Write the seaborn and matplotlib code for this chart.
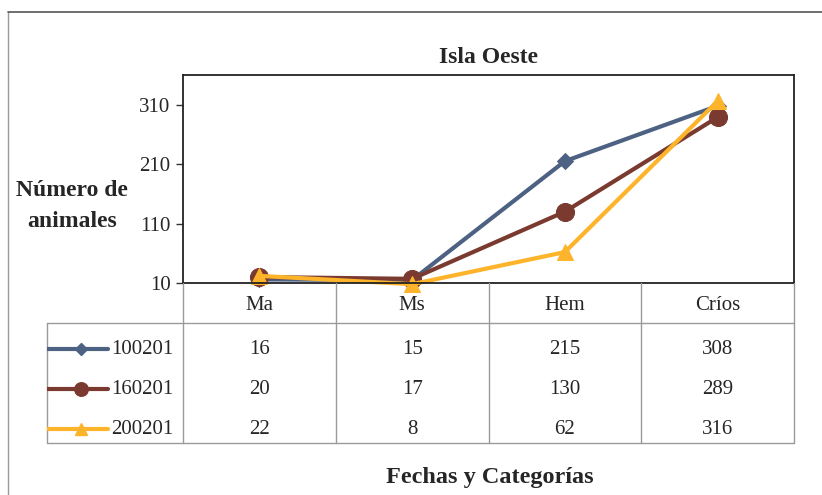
import pandas as pd
import matplotlib
matplotlib.use("Agg")
import matplotlib.pyplot as plt
from matplotlib.lines import Line2D
import seaborn as sns

# Datos del gráfico
categorias = ['Ma', 'Ms', 'Hem', 'Críos']
series = ['100201', '160201', '200201']
v100201 = [16, 15, 215, 308]
v160201 = [20, 17, 130, 289]
v200201 = [22, 8, 62, 316]
yticks = [10, 110, 210, 310]

valores = {'100201': v100201, '160201': v160201, '200201': v200201}
colores = {'100201': '#4d6283', '160201': '#7a3a30', '200201': '#fdb42a'}
marcadores = {'100201': 'D', '160201': 'o', '200201': '^'}
tam_marcador = {'100201': 8, '160201': 13, '200201': 12}

df = pd.DataFrame([
    {'categoria': c, 'serie': s, 'valor': v, 'pos': i}
    for s in series for i, (c, v) in enumerate(zip(categorias, valores[s]))
])

sns.set_theme(style="white")
plt.rcParams['font.family'] = ['Liberation Serif', 'DejaVu Serif']

W, H = 822, 495
fig = plt.figure(figsize=(W / 100, H / 100), dpi=100)

# Marco exterior (solo borde superior e izquierdo visibles)
fig.add_artist(Line2D([8 / W, 8 / W], [0, 1 - 12 / H], color='#9a9a9a', lw=1.0))
fig.add_artist(Line2D([8 / W, 1], [1 - 12 / H, 1 - 12 / H], color='#555555', lw=1.2))

# Área del gráfico
ax = fig.add_axes([183 / W, 1 - 283 / H, (794 - 183) / W, (283 - 75) / H])
for s in series:
    sub = df[df['serie'] == s]
    sns.lineplot(data=sub, x='pos', y='valor', ax=ax, color=colores[s],
                 marker=marcadores[s], markersize=tam_marcador[s],
                 markeredgecolor=colores[s], linewidth=3, sort=False, clip_on=False)

ax.set_xlim(-0.5, len(categorias) - 0.5)
ax.set_ylim(10, 360)
ax.set_yticks(yticks)
ax.set_yticklabels([str(t) for t in yticks], fontsize=15)
ax.set_xticks([])
ax.set_xlabel('')
ax.set_ylabel('')
ax.tick_params(axis='y', direction='out', length=5, width=1, left=True, color='#333333', pad=4)
for sp in ax.spines.values():
    sp.set_color('#222222')
    sp.set_linewidth(1.3)
ax.set_title('Isla Oeste', fontsize=17, fontweight='bold', pad=9)

fig.text(72 / W, 1 - 206 / H, 'Número de\nanimales', ha='center', va='center',
         fontsize=17, fontweight='bold', linespacing=1.6)
fig.text(490 / W, 1 - 478 / H, 'Fechas y Categorías', ha='center', va='center',
         fontsize=17.5, fontweight='bold')

# Tabla de datos
ancho_etiqueta = (183 - 47) / ((794 - 183) / len(categorias))
tax = fig.add_axes([47 / W, 1 - 443 / H, (794 - 47) / W, 160 / H])
x0 = -0.5 - ancho_etiqueta
x1 = len(categorias) - 0.5
tax.set_xlim(x0, x1)
tax.set_ylim(4, 0)
tax.axis('off')
gris = '#9a9a9a'
for i in range(len(categorias) + 1):
    tax.plot([i - 0.5, i - 0.5], [0, 4], color=gris, lw=1.0, clip_on=False)
tax.plot([x0, x0], [1, 4], color=gris, lw=1.0, clip_on=False)
tax.plot([x0, x1], [1, 1], color=gris, lw=1.0, clip_on=False)
tax.plot([x0, x1], [4, 4], color=gris, lw=1.0, clip_on=False)

for i, c in enumerate(categorias):
    tax.text(i, 0.55, c, ha='center', va='center', fontsize=15)

for r, s in enumerate(series):
    y = r + 1.65
    for i, v in enumerate(valores[s]):
        tax.text(i, y, str(v), ha='center', va='center', fontsize=15)
    tax.plot([x0 + 0.0, x0 + 0.4], [y, y], color=colores[s], lw=3)
    tax.plot([x0 + 0.22], [y], marker=marcadores[s], color=colores[s],
             markersize=tam_marcador[s] * 0.75)
    tax.text(x0 + 0.42, y, s, ha='left', va='center', fontsize=15)

fig.savefig('out.png', dpi=100)
